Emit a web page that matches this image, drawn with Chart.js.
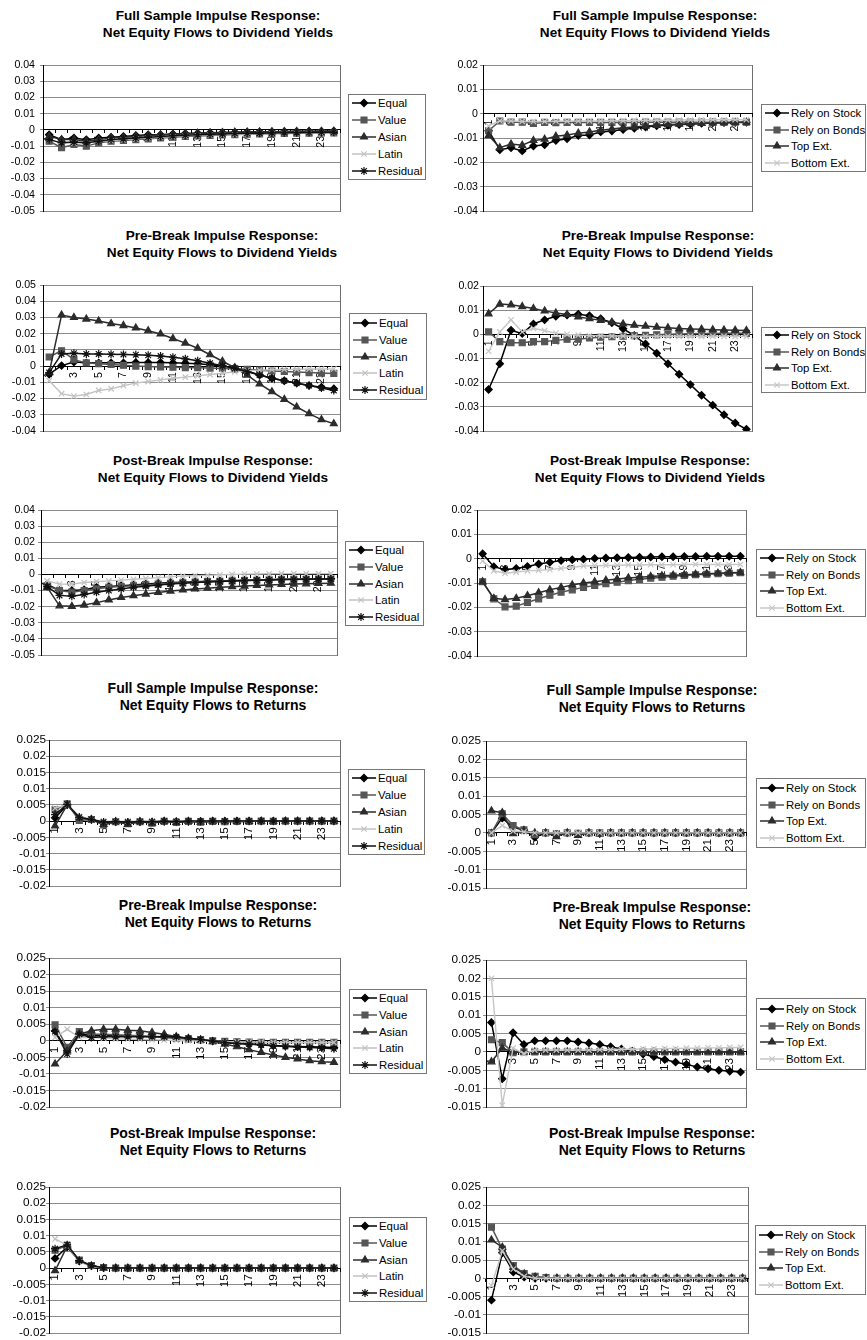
<!DOCTYPE html>
<html>
<head>
<meta charset="utf-8">
<script src="https://cdn.jsdelivr.net/npm/chart.js@4.4.1/dist/chart.umd.min.js"></script>
<style>
  html, body { margin: 0; padding: 0; background: #fff; }
  #page { position: relative; width: 867px; height: 1340px; overflow: hidden;
          font-family: "Liberation Sans", Arial, sans-serif; color: #000; }
  .title { position: absolute; width: 320px; font-weight: bold; line-height: 17px;
           text-align: center; white-space: nowrap; }
  .legend { position: absolute; box-sizing: border-box; border: 1px solid #777; background: #fff; }
  .legend .item { position: absolute; left: 0; height: 14px; white-space: nowrap; font-size: 11.4px; }
  .legend .item canvas { position: absolute; left: 3px; top: 1px; }
  .legend .item span { position: absolute; top: 0; line-height: 14px; }
  #page > canvas { position: absolute; }
</style>
</head>
<body>
<div id="page"></div>
<script>
// ---- horizon labels (months after the shock) ----
const periods = ['1','2','3','4','5','6','7','8','9','10','11','12',
                 '13','14','15','16','17','18','19','20','21','22','23','24'];

// ---- series names ----
const regionNames = ['Equal', 'Value', 'Asian', 'Latin', 'Residual'];
const relianceNames = ['Rely on Stock', 'Rely on Bonds', 'Top Ext.', 'Bottom Ext.'];

// ---- full sample: net equity flows to dividend yields ----
const fullDyEqual = [-0.003,-0.006,-0.005,-0.006,-0.005,-0.0045,-0.004,-0.0035,-0.003,-0.003,-0.0025,-0.0022,-0.002,-0.0018,-0.0016,-0.0015,-0.0013,-0.0012,-0.0011,-0.001,-0.0009,-0.0008,-0.0008,-0.0007];
const fullDyValue = [-0.007,-0.011,-0.009,-0.010,-0.008,-0.007,-0.0065,-0.006,-0.0055,-0.005,-0.0045,-0.004,-0.0037,-0.0034,-0.0031,-0.0029,-0.0027,-0.0025,-0.0023,-0.0022,-0.0021,-0.002,-0.0019,-0.0018];
const fullDyAsian = [-0.004,-0.006,-0.006,-0.007,-0.006,-0.005,-0.0045,-0.004,-0.0035,-0.003,-0.0027,-0.0024,-0.0021,-0.0019,-0.0017,-0.0015,-0.0014,-0.0013,-0.0012,-0.0011,-0.001,-0.001,-0.0009,-0.0009];
const fullDyLatin = [-0.006,-0.008,-0.008,-0.008,-0.007,-0.0065,-0.006,-0.0055,-0.005,-0.0045,-0.004,-0.0037,-0.0034,-0.0031,-0.0029,-0.0027,-0.0025,-0.0023,-0.0022,-0.0021,-0.002,-0.0019,-0.0018,-0.0017];
const fullDyResidual = [-0.006,-0.008,-0.0075,-0.008,-0.007,-0.006,-0.0055,-0.005,-0.0045,-0.004,-0.0036,-0.0033,-0.003,-0.0027,-0.0025,-0.0023,-0.0021,-0.002,-0.0019,-0.0018,-0.0017,-0.0016,-0.0015,-0.0015];

const fullDyStock = [-0.007,-0.0148,-0.014,-0.0153,-0.0133,-0.0128,-0.011,-0.0103,-0.009,-0.0088,-0.0075,-0.0071,-0.0065,-0.006,-0.0055,-0.005,-0.0048,-0.0045,-0.0043,-0.004,-0.0038,-0.0037,-0.0036,-0.0035];
const fullDyBonds = [-0.007,-0.003,-0.0035,-0.0035,-0.004,-0.0036,-0.0037,-0.0036,-0.0036,-0.0036,-0.0036,-0.0036,-0.0036,-0.0036,-0.0035,-0.0035,-0.0035,-0.0035,-0.0035,-0.0035,-0.0035,-0.0035,-0.0035,-0.0035];
const fullDyTop = [-0.009,-0.014,-0.0125,-0.013,-0.011,-0.0105,-0.0093,-0.0088,-0.008,-0.0075,-0.0068,-0.0063,-0.0058,-0.0055,-0.0051,-0.0048,-0.0045,-0.0043,-0.0041,-0.004,-0.0038,-0.0037,-0.0036,-0.0035];
const fullDyBottom = [-0.005,-0.003,-0.003,-0.0032,-0.0032,-0.0032,-0.0031,-0.0031,-0.003,-0.003,-0.003,-0.0029,-0.0029,-0.0028,-0.0028,-0.0027,-0.0027,-0.0026,-0.0026,-0.0026,-0.0025,-0.0025,-0.0025,-0.0025];

// ---- pre-break: net equity flows to dividend yields ----
const preDyEqual = [-0.005,0.0003,0.0025,0.002,0.002,0.002,0.002,0.0022,0.0022,0.0022,0.002,0.0018,0.0015,0.0008,0,-0.001,-0.003,-0.0055,-0.0075,-0.009,-0.0105,-0.012,-0.013,-0.014];
const preDyValue = [0.0056,0.0095,0.004,0.002,0.0015,0.001,0.0005,0,-0.0003,-0.0005,-0.0007,-0.0009,-0.001,-0.0012,-0.0014,-0.0017,-0.002,-0.0025,-0.003,-0.0033,-0.0036,-0.004,-0.0043,-0.0045];
const preDyAsian = [-0.004,0.0315,0.030,0.029,0.0278,0.0262,0.025,0.0235,0.0218,0.0198,0.017,0.0142,0.011,0.007,0.003,-0.001,-0.0055,-0.011,-0.0158,-0.0205,-0.0252,-0.0293,-0.033,-0.0355];
const preDyLatin = [-0.009,-0.017,-0.0185,-0.0175,-0.015,-0.014,-0.012,-0.0105,-0.0095,-0.0085,-0.0075,-0.0068,-0.006,-0.0052,-0.0045,-0.0035,-0.0028,-0.0025,-0.0022,-0.002,-0.002,-0.0018,-0.0018,-0.0017];
const preDyResidual = [-0.004,0.0075,0.008,0.0075,0.0075,0.0073,0.0072,0.007,0.0067,0.0062,0.0055,0.0045,0.0033,0.0018,0.0002,-0.0015,-0.0035,-0.0055,-0.0075,-0.009,-0.0105,-0.012,-0.0135,-0.015];

const preDyStock = [-0.0228,-0.0122,0.0017,0.0003,0.0043,0.006,0.0075,0.008,0.0083,0.0077,0.0065,0.0048,0.0023,-0.0005,-0.004,-0.0078,-0.0122,-0.0165,-0.0208,-0.0252,-0.0293,-0.0333,-0.0367,-0.0393];
const preDyBonds = [0.001,-0.003,-0.0035,-0.0035,-0.003,-0.003,-0.0025,-0.002,-0.002,-0.0015,-0.0012,-0.001,-0.0008,-0.0006,-0.0004,-0.0002,0,0.0001,0.0002,0.0003,0.0003,0.0004,0.0004,0.0004];
const preDyTop = [0.0085,0.0125,0.0122,0.0115,0.0107,0.0097,0.0088,0.0082,0.0072,0.0065,0.0058,0.005,0.0043,0.0038,0.0034,0.003,0.0027,0.0024,0.0022,0.0021,0.0019,0.0018,0.0017,0.0016];
const preDyBottom = [-0.007,0.001,0.006,0.001,0.0025,0.0015,0.0005,0,-0.0003,-0.0005,-0.0006,-0.0007,-0.0007,-0.0008,-0.0008,-0.0008,-0.0008,-0.0008,-0.0008,-0.0008,-0.0008,-0.0008,-0.0008,-0.0008];

// ---- post-break: net equity flows to dividend yields ----
const postDyEqual = [-0.006,-0.01,-0.01,-0.0095,-0.008,-0.0075,-0.007,-0.0065,-0.006,-0.0055,-0.005,-0.0048,-0.0045,-0.0043,-0.004,-0.0038,-0.0036,-0.0034,-0.0032,-0.003,-0.003,-0.0028,-0.0028,-0.0027];
const postDyValue = [-0.007,-0.01,-0.011,-0.01,-0.009,-0.008,-0.0075,-0.007,-0.0065,-0.006,-0.0055,-0.0052,-0.0048,-0.0045,-0.0042,-0.004,-0.0038,-0.0036,-0.0034,-0.0032,-0.003,-0.003,-0.0028,-0.0027];
const postDyAsian = [-0.008,-0.0195,-0.0198,-0.019,-0.0175,-0.0158,-0.0143,-0.0132,-0.0122,-0.0112,-0.0103,-0.0096,-0.009,-0.0085,-0.008,-0.0076,-0.0072,-0.0068,-0.0065,-0.0062,-0.006,-0.0058,-0.0056,-0.0054];
const postDyLatin = [-0.004,-0.006,-0.006,-0.005,-0.0045,-0.004,-0.0035,-0.003,-0.0025,-0.002,-0.0015,-0.001,-0.0008,-0.0005,-0.0002,0,0.0002,0.0003,0.0004,0.0005,0.0005,0.0005,0.0005,0.0005];
const postDyResidual = [-0.0075,-0.013,-0.0135,-0.0125,-0.011,-0.01,-0.009,-0.008,-0.0073,-0.0066,-0.006,-0.0055,-0.005,-0.0047,-0.0044,-0.0041,-0.0038,-0.0036,-0.0034,-0.0032,-0.0031,-0.003,-0.0029,-0.0028];

const postDyStock = [0.002,-0.0033,-0.0045,-0.004,-0.0032,-0.0022,-0.0015,-0.0008,-0.0004,-0.0002,0.0001,0.0003,0.0004,0.0005,0.0006,0.0007,0.0008,0.0008,0.0009,0.0009,0.001,0.001,0.001,0.001];
const postDyBonds = [-0.0095,-0.0165,-0.0198,-0.0195,-0.018,-0.0165,-0.015,-0.0138,-0.0128,-0.0118,-0.011,-0.0103,-0.0097,-0.009,-0.0085,-0.008,-0.0076,-0.0072,-0.0069,-0.0066,-0.0064,-0.0062,-0.006,-0.0058];
const postDyTop = [-0.0095,-0.0163,-0.0168,-0.0163,-0.0152,-0.014,-0.0128,-0.0118,-0.0108,-0.01,-0.0095,-0.0089,-0.0084,-0.0079,-0.0076,-0.0073,-0.007,-0.0068,-0.0066,-0.0064,-0.0062,-0.006,-0.0058,-0.0057];
const postDyBottom = [-0.001,-0.005,-0.006,-0.0055,-0.005,-0.0048,-0.0045,-0.004,-0.0035,-0.003,-0.0029,-0.0028,-0.0027,-0.0026,-0.0026,-0.0025,-0.0025,-0.0025,-0.0024,-0.0024,-0.0024,-0.0024,-0.0024,-0.0024];

// ---- full sample: net equity flows to returns ----
const fullRetEqual = [0.001,0.005,0.001,0.0005,-0.0005,-0.0002,-0.0004,-0.0002,-0.0003,-0.0001,-0.0002,-0.0001,-0.0001,0,0,0,0,0,0,0,0,0,0,0];
const fullRetValue = [0.0035,0.0053,0.0002,0.0005,-0.0012,-0.0002,-0.0008,-0.0002,-0.0006,-0.0001,-0.0004,-0.0001,-0.0003,-0.0001,-0.0002,-0.0001,-0.0001,0,-0.0001,0,0,0,0,0];
const fullRetAsian = [-0.0015,0.005,0.001,0.0005,-0.001,-0.0002,-0.001,-0.0002,-0.0006,-0.0001,-0.0004,-0.0001,-0.0003,-0.0001,-0.0002,-0.0001,-0.0001,0,-0.0001,0,0,0,0,0];
const fullRetLatin = [0.004,0.005,0.0015,0.0005,0,0,0,0,0,0,0,0,0,0,0,0,0,0,0,0,0,0,0,0];
const fullRetResidual = [0.002,0.0052,0.0012,0.0005,-0.0003,-0.0001,-0.0003,-0.0001,-0.0002,0,-0.0001,0,0,0,0,0,0,0,0,0,0,0,0,0];

const fullRetStock = [0,0.004,0.0015,0.0008,-0.0012,0,-0.0005,0,-0.0003,0,-0.0002,0,0,0,0,0,0,0,0,0,0,0,0,0];
const fullRetBonds = [0,0.0052,0.002,0.0008,-0.0005,0,-0.0002,0,-0.0001,0,0,0,0,0,0,0,0,0,0,0,0,0,0,0];
const fullRetTop = [0.006,0.0055,-0.0002,0.0005,0,0,-0.001,0,-0.0007,0,-0.0003,0,-0.0001,0,0,0,0,0,0,0,0,0,0,0];
const fullRetBottom = [0,0.002,0.0005,0.0003,0,0,0,0,0,0,0,0,0,0,0,0,0,0,0,0,0,0,0,0];

// ---- pre-break: net equity flows to returns ----
const preRetEqual = [0.003,-0.003,0.0022,0.0015,0.0015,0.0015,0.0015,0.0014,0.0013,0.0012,0.001,0.0007,0.0003,-0.0001,-0.0005,-0.0008,-0.001,-0.0012,-0.0014,-0.0016,-0.0017,-0.0018,-0.0019,-0.002];
const preRetValue = [0.0048,-0.002,0.0028,0.002,0.002,0.0018,0.0017,0.0015,0.0012,0.001,0.0007,0.0005,0.0003,0,-0.0002,-0.0003,-0.0004,-0.0005,-0.0005,-0.0005,-0.0005,-0.0005,-0.0005,-0.0005];
const preRetAsian = [-0.007,-0.003,0.002,0.003,0.0035,0.0035,0.0032,0.003,0.0025,0.002,0.0012,0.0007,0.0002,-0.0003,-0.001,-0.0018,-0.0027,-0.0035,-0.0043,-0.005,-0.0055,-0.006,-0.0063,-0.0065];
const preRetLatin = [0.001,0.0035,0.001,0.001,0.0008,0.0006,0.0005,0.0004,0.0003,0.0002,0.0001,0,-0.0001,-0.0002,-0.0003,-0.0003,-0.0004,-0.0004,-0.0005,-0.0005,-0.0005,-0.0005,-0.0005,-0.0005];
const preRetResidual = [0.0028,-0.004,0.002,0.001,0.0012,0.0012,0.0012,0.0012,0.0012,0.0012,0.0012,0.0008,0.0004,-0.0001,-0.0005,-0.0008,-0.001,-0.0013,-0.0015,-0.0017,-0.0019,-0.002,-0.0022,-0.0024];

const preRetStock = [0.008,-0.0073,0.0052,0.002,0.003,0.003,0.003,0.003,0.0027,0.0024,0.002,0.0014,0.0008,0.0002,-0.0006,-0.0013,-0.0021,-0.0028,-0.0034,-0.0041,-0.0046,-0.005,-0.0053,-0.0055];
const preRetBonds = [0.0033,0.0025,-0.0002,0,0,0,0,0,0,0,0,0,0,0,0,0,0,0,0,0,0,0,0,0];
const preRetTop = [-0.0027,0.001,0,0,0,0,0,0,0,0,0,0,0,0,0,0,0,0,0,0,0,0,0,0];
const preRetBottom = [0.02,-0.0145,0.001,-0.0005,0.0005,0.0005,0.0005,0.0005,0.0005,0.0005,0.0006,0.0006,0.0007,0.0007,0.0008,0.0008,0.0009,0.0009,0.001,0.001,0.0011,0.0011,0.0012,0.0012];

// ---- post-break: net equity flows to returns ----
const postRetEqual = [0.003,0.0065,0.0022,0.0007,0.0001,0,0,0,0,0,0,0,0,0,0,0,0,0,0,0,0,0,0,0];
const postRetValue = [0.0055,0.007,0.0025,0.0008,0.0002,0,0,0,0,0,0,0,0,0,0,0,0,0,0,0,0,0,0,0];
const postRetAsian = [-0.0008,0.0068,0.0022,0.0006,0,0,0,0,0,0,0,0,0,0,0,0,0,0,0,0,0,0,0,0];
const postRetLatin = [0.009,0.007,0.002,0.0005,0,0,0,0,0,0,0,0,0,0,0,0,0,0,0,0,0,0,0,0];
const postRetResidual = [0.006,0.0072,0.0023,0.0007,0.0001,0,0,0,0,0,0,0,0,0,0,0,0,0,0,0,0,0,0,0];

const postRetStock = [-0.006,0.007,0.0017,0.0003,0,0,0,0,0,0,0,0,0,0,0,0,0,0,0,0,0,0,0,0];
const postRetBonds = [0.014,0.008,0.0035,0.0013,0.0005,0.0002,0,0,0,0,0,0,0,0,0,0,0,0,0,0,0,0,0,0];
const postRetTop = [0.0105,0.0085,0.003,0.0012,0.0003,0,0,0,0,0,0,0,0,0,0,0,0,0,0,0,0,0,0,0];
const postRetBottom = [-0.002,0.0075,0.0025,0.0005,0,0,0,0,0,0,0,0,0,0,0,0,0,0,0,0,0,0,0,0];

// ---- titles ----
const titleFull = 'Full Sample Impulse Response:';
const titlePre = 'Pre-Break Impulse Response:';
const titlePost = 'Post-Break Impulse Response:';
const titleDy = 'Net Equity Flows to Dividend Yields';
const titleRet = 'Net Equity Flows to Returns';

// ---- line / marker styles per series ----
const regionStyles = [
  { style: 'rectRot',  color: '#000000', radius: 3.6, width: 1.5 },
  { style: 'rect',     color: '#565656', radius: 4.2, width: 1.5 },
  { style: 'triangle', color: '#2c2c2c', radius: 4.0, width: 1.5 },
  { style: 'crossRot', color: '#c2c2c2', radius: 3.8, width: 1.4 },
  { style: 'star',     color: '#111111', radius: 4.0, width: 1.5 }
];
const relianceStyles = [
  { style: 'rectRot',  color: '#000000', radius: 3.6, width: 1.5 },
  { style: 'rect',     color: '#565656', radius: 4.2, width: 1.5 },
  { style: 'triangle', color: '#2c2c2c', radius: 4.0, width: 1.5 },
  { style: 'crossRot', color: '#c6c6c6', radius: 3.8, width: 1.4 }
];

// ---- panel definitions (plot rect = [left, top, right, bottom]) ----
const panels = [
  { lines: [titleFull, titleDy], names: regionNames, styles: regionStyles,
    series: [fullDyEqual, fullDyValue, fullDyAsian, fullDyLatin, fullDyResidual],
    y: [-0.05, 0.04, 0.01], plot: [43, 65, 340, 211], gap: 8, tick: 10.6, titleAt: [218, 15], titleSize: 13.6, legend: [348, 94, 78, 86] },
  { lines: [titleFull, titleDy], names: relianceNames, styles: relianceStyles,
    series: [fullDyStock, fullDyBonds, fullDyTop, fullDyBottom],
    y: [-0.04, 0.02, 0.01], plot: [483, 65, 752, 211], gap: 5, tick: 10.6, titleAt: [655, 15], titleSize: 13.6, legend: [761, 104, 105, 68] },
  { lines: [titlePre, titleDy], names: regionNames, styles: regionStyles,
    series: [preDyEqual, preDyValue, preDyAsian, preDyLatin, preDyResidual],
    y: [-0.04, 0.05, 0.01], plot: [43, 285, 340, 431], gap: 7, tick: 10.6, titleAt: [222, 235], titleSize: 13.6, legend: [349, 313, 78, 87] },
  { lines: [titlePre, titleDy], names: relianceNames, styles: relianceStyles,
    series: [preDyStock, preDyBonds, preDyTop, preDyBottom],
    y: [-0.04, 0.02, 0.01], plot: [483, 286, 752, 431], gap: 4, tick: 10.6, titleAt: [658, 235], titleSize: 13.6, legend: [761, 327, 105, 66] },
  { lines: [titlePost, titleDy], names: regionNames, styles: regionStyles,
    series: [postDyEqual, postDyValue, postDyAsian, postDyLatin, postDyResidual],
    y: [-0.05, 0.04, 0.01], plot: [41, 510, 337, 655], gap: 6, tick: 10.6, titleAt: [213, 460], titleSize: 13.6, legend: [345, 541, 79, 85] },
  { lines: [titlePost, titleDy], names: relianceNames, styles: relianceStyles,
    series: [postDyStock, postDyBonds, postDyTop, postDyBottom],
    y: [-0.04, 0.02, 0.01], plot: [477, 510, 746, 656], gap: 5, tick: 10.6, titleAt: [650, 460], titleSize: 13.6, legend: [756, 549, 110, 68] },
  { lines: [titleFull, titleRet], names: regionNames, styles: regionStyles,
    series: [fullRetEqual, fullRetValue, fullRetAsian, fullRetLatin, fullRetResidual],
    y: [-0.02, 0.025, 0.005], plot: [49, 740, 340, 886], gap: 3, tick: 11.8, titleAt: [213, 688], titleSize: 14, legend: [348, 769, 77, 86] },
  { lines: [titleFull, titleRet], names: relianceNames, styles: relianceStyles,
    series: [fullRetStock, fullRetBonds, fullRetTop, fullRetBottom],
    y: [-0.015, 0.025, 0.005], plot: [486, 741, 746, 888], gap: 5, tick: 11.8, titleAt: [652, 690], titleSize: 14, legend: [756, 778, 110, 70] },
  { lines: [titlePre, titleRet], names: regionNames, styles: regionStyles,
    series: [preRetEqual, preRetValue, preRetAsian, preRetLatin, preRetResidual],
    y: [-0.02, 0.025, 0.005], plot: [49, 958, 340, 1107], gap: 3, tick: 11.8, titleAt: [218, 905], titleSize: 14, legend: [349, 989, 78, 85] },
  { lines: [titlePre, titleRet], names: relianceNames, styles: relianceStyles,
    series: [preRetStock, preRetBonds, preRetTop, preRetBottom],
    y: [-0.015, 0.025, 0.005], plot: [486, 960, 746, 1107], gap: 5, tick: 11.8, titleAt: [652, 907], titleSize: 14, legend: [756, 998, 110, 72] },
  { lines: [titlePost, titleRet], names: regionNames, styles: regionStyles,
    series: [postRetEqual, postRetValue, postRetAsian, postRetLatin, postRetResidual],
    y: [-0.02, 0.025, 0.005], plot: [49, 1187, 340, 1333], gap: 3, tick: 11.8, titleAt: [213, 1133], titleSize: 14, legend: [349, 1217, 78, 85] },
  { lines: [titlePost, titleRet], names: relianceNames, styles: relianceStyles,
    series: [postRetStock, postRetBonds, postRetTop, postRetBottom],
    y: [-0.015, 0.025, 0.005], plot: [486, 1187, 748, 1333], gap: 5, tick: 11.8, titleAt: [652, 1133], titleSize: 14, legend: [755, 1225, 111, 70] }
];

const FONT = '"Liberation Sans", Arial, sans-serif';
Chart.defaults.font.family = FONT;
Chart.defaults.color = '#000';

const AXIS_W = 60;   // room left of the plot for the value labels
const PAD = 8;       // breathing room around the plot inside each canvas
const TICK = 3;

// gray frame round the plot area, drawn under the grid and the axis lines
const plotFrame = {
  id: 'plotFrame',
  beforeDraw(chart) {
    const a = chart.chartArea, c = chart.ctx;
    const l = Math.round(a.left - 0.5) + 0.5, r = Math.round(a.right - 0.5) + 0.5;
    const t = Math.round(a.top - 0.5) + 0.5, b = Math.round(a.bottom - 0.5) + 0.5;
    c.save();
    c.strokeStyle = '#6f6f6f';
    c.lineWidth = 1;
    c.strokeRect(l, t, r - l, b - t);
    c.restore();
  }
};

function fmtTick(v) {
  return String(parseFloat(Number(v).toFixed(4)));
}

function drawMarker(c, s, x, y) {
  c.fillStyle = s.color;
  c.strokeStyle = s.color;
  c.lineWidth = 1.2;
  if (Chart.helpers && Chart.helpers.drawPoint) {
    Chart.helpers.drawPoint(c, { pointStyle: s.style, radius: s.radius, rotation: 0, borderWidth: 1.2 }, x, y);
  } else {
    c.fillRect(x - 3, y - 3, 6, 6);
  }
}

const page = document.getElementById('page');

panels.forEach(p => {
  // title
  const t = document.createElement('div');
  t.className = 'title';
  t.style.left = (p.titleAt[0] - 160) + 'px';
  t.style.top = (p.titleAt[1] - 8.5) + 'px';
  t.style.fontSize = p.titleSize + 'px';
  t.innerHTML = p.lines.map(s => '<div>' + s + '</div>').join('');
  page.appendChild(t);

  // chart canvas
  const [L, T, R, B] = p.plot;
  const w = R - L + AXIS_W + PAD, h = B - T + 2 * PAD;
  const cv = document.createElement('canvas');
  cv.width = w; cv.height = h;
  cv.style.left = (L - AXIS_W) + 'px';
  cv.style.top = (T - PAD) + 'px';
  cv.style.width = w + 'px';
  cv.style.height = h + 'px';
  page.appendChild(cv);

  const datasets = p.series.map((data, i) => {
    const s = p.styles[i];
    return {
      label: p.names[i],
      data: data,
      order: -i,
      borderColor: s.color,
      backgroundColor: s.color,
      borderWidth: s.width,
      pointStyle: s.style,
      pointRadius: s.radius,
      pointBackgroundColor: s.color,
      pointBorderColor: s.color,
      pointBorderWidth: 1.2,
      tension: 0,
      fill: false
    };
  });

  new Chart(cv, {
    type: 'line',
    data: { labels: periods, datasets: datasets },
    plugins: [plotFrame],
    options: {
      responsive: false,
      animation: false,
      devicePixelRatio: 1,
      events: [],
      layout: { padding: { left: 0, right: PAD, top: PAD, bottom: PAD } },
      plugins: { legend: { display: false }, title: { display: false }, tooltip: { enabled: false } },
      scales: {
        x: {
          type: 'category',
          position: { y: 0 },
          offset: true,
          grid: { display: true, drawOnChartArea: false, drawTicks: true, tickLength: 3, offset: true, color: '#000' },
          border: { display: true, color: '#000', width: 1 },
          ticks: {
            autoSkip: false, minRotation: 90, maxRotation: 90, padding: 3, color: '#000',
            font: { family: FONT, size: p.tick, lineHeight: 1 },
            callback: function (value, index) { return index % 2 === 0 ? this.getLabelForValue(value) : ''; }
          },
          afterFit: s => { s.paddingLeft = 0; s.paddingRight = 0; }
        },
        y: {
          min: p.y[0], max: p.y[1],
          grid: { color: '#8c8c8c', lineWidth: 1, drawTicks: true, tickLength: TICK },
          border: { display: true, color: '#000', width: 1 },
          ticks: { stepSize: p.y[2], autoSkip: false, maxTicksLimit: 20, padding: p.gap - TICK, color: '#000',
                   font: { family: FONT, size: p.tick, lineHeight: 1 }, callback: v => fmtTick(v) },
          afterFit: s => { s.width = AXIS_W; s.paddingTop = 0; s.paddingBottom = 0; }
        }
      }
    }
  });

  // legend box
  const [lx, ly, lw, lh] = p.legend;
  const box = document.createElement('div');
  box.className = 'legend';
  box.style.left = lx + 'px';
  box.style.top = ly + 'px';
  box.style.width = lw + 'px';
  box.style.height = lh + 'px';
  const n = p.names.length, step = 16.8;
  p.names.forEach((name, i) => {
    const cy = lh / 2 + (i - (n - 1) / 2) * step - 1;
    const item = document.createElement('div');
    item.className = 'item';
    item.style.top = (cy - 7) + 'px';
    item.style.width = lw + 'px';
    const sc = document.createElement('canvas');
    sc.width = 24; sc.height = 12;
    const c = sc.getContext('2d');
    const s = p.styles[i];
    c.strokeStyle = s.color; c.lineWidth = 1.5;
    c.beginPath(); c.moveTo(0, 6); c.lineTo(24, 6); c.stroke();
    drawMarker(c, s, 12, 6);
    item.appendChild(sc);
    const label = document.createElement('span');
    label.style.left = '29px';
    label.textContent = name;
    item.appendChild(label);
    box.appendChild(item);
  });
  page.appendChild(box);
});
</script>
</body>
</html>
